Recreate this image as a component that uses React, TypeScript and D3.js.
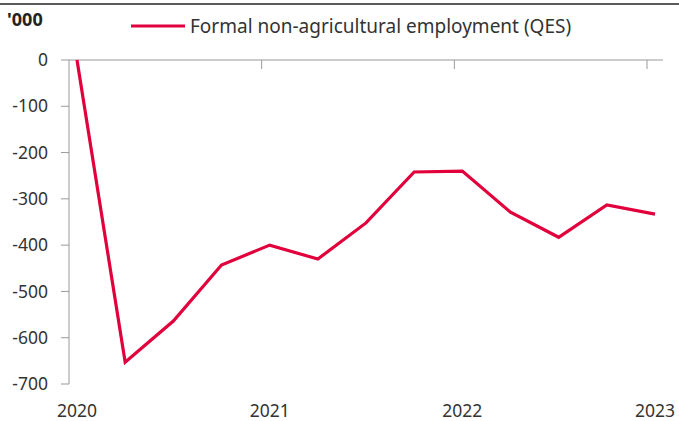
import React from "react";
import * as d3 from "d3";

const periods = ["2020Q1","2020Q2","2020Q3","2020Q4","2021Q1","2021Q2","2021Q3","2021Q4","2022Q1","2022Q2","2022Q3","2022Q4","2023Q1"];
const values = [0, -653, -564, -443, -400, -430, -352, -242, -240, -329, -383, -313, -333];
const yTicks = [0, -100, -200, -300, -400, -500, -600, -700];
const yearTicks = [2020, 2021, 2022, 2023];
const seriesName = "Formal non-agricultural employment (QES)";
const unitLabel = "'000";

const W = 679, H = 421;
const FONT = "'Noto Sans', sans-serif";
const RED = "#e2003c";

function periodToYear(p: string): number {
  const y = +p.slice(0, 4);
  const q = +p.slice(5);
  return y + (q - 1) / 4 + 0.0415;
}

export default function App() {
  const x = d3.scaleLinear().domain([2020, 2023]).range([69, 647]);
  const xEnd = 663;
  const y = d3.scaleLinear().domain([0, -700]).range([60, 384]);
  const line = d3.line<number>()
    .x((_, i) => x(periodToYear(periods[i])))
    .y((d) => y(d));

  return (
    <svg width={W} height={H} style={{ position: "absolute", left: 0, top: 0, background: "#fff" }} fontFamily={FONT}>
      <line x1={0} x2={W} y1={4} y2={4} stroke="#222" strokeWidth={1.5} />
      <text x={7} y={26} fontSize={18} fontWeight={700} fill="#222">{unitLabel}</text>
      <line x1={131} x2={185} y1={26} y2={26} stroke={RED} strokeWidth={3} />
      <text x={190} y={33} fontSize={19} fill="#333">{seriesName}</text>

      {/* y axis */}
      <line x1={69} x2={69} y1={y(0)} y2={y(-700)} stroke="#999" strokeWidth={1} />
      {yTicks.map((t) => (
        <g key={t}>
          <line x1={61} x2={69} y1={y(t)} y2={y(t)} stroke="#999" strokeWidth={1} />
          <text x={48} y={y(t)} dy="0.35em" textAnchor="end" fontSize={17.5} fill="#333">{t}</text>
        </g>
      ))}
      {/* x axis at zero */}
      <line x1={69} x2={xEnd} y1={y(0)} y2={y(0)} stroke="#999" strokeWidth={1} />
      {yearTicks.map((yr) => (
        <g key={yr}>
          {yr > 2020 && <line x1={x(yr)} x2={x(yr)} y1={y(0)} y2={y(0) + 9} stroke="#999" strokeWidth={1} />}
          <text x={x(yr + 0.0415)} y={417} textAnchor="middle" fontSize={17.5} fill="#333">{yr}</text>
        </g>
      ))}
      <path d={line(values) || ""} fill="none" stroke={RED} strokeWidth={3.2} strokeLinejoin="miter" />
    </svg>
  );
}
